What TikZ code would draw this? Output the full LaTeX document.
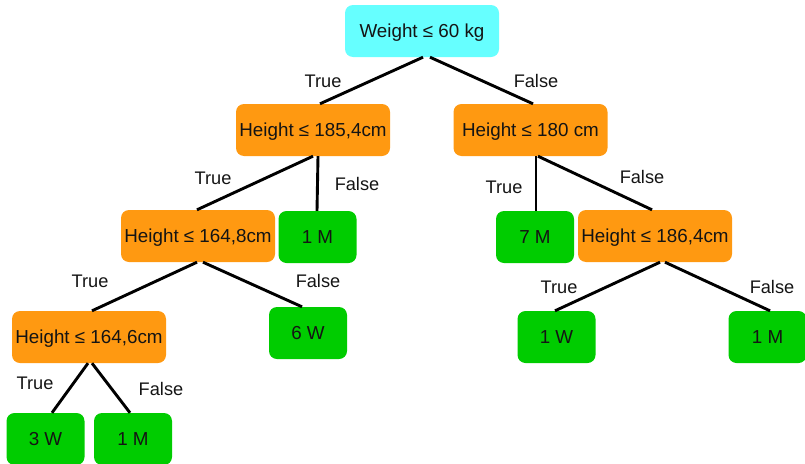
\documentclass[tikz,border=0pt]{standalone}
\usepackage{fontspec}
\setmainfont{Liberation Sans}
\begin{document}
\begin{tikzpicture}[x=1pt,y=-1pt,
  box/.style={rounded corners=8pt, minimum height=52pt, inner sep=0pt,
    text height=13.5pt, text depth=0pt,
    font=\fontsize{18.8}{21}\selectfont, text=black!92},
  test/.style={box, fill=orangeC, minimum width=154pt},
  rootbox/.style={box, fill=cyanC, minimum width=154pt},
  leaf/.style={box, fill=greenC, minimum width=78pt},
  edge/.style={line width=2.9pt, black},
  lbl/.style={font=\fontsize{18.2}{21}\selectfont, text=black!92, inner sep=0pt}]
\definecolor{cyanC}{RGB}{102,255,255}
\definecolor{orangeC}{RGB}{255,153,17}
\definecolor{greenC}{RGB}{0,204,0}
\useasboundingbox (0,0) rectangle (805,463);

% decision nodes
\node[rootbox] (root) at (422,31) {Weight ≤ 60 kg};
\node[test] (h1) at (313,130) {Height ≤ 185,4cm};
\node[test] (h2) at (530.5,130) {Height ≤ 180 cm};
\node[test] (h3) at (198,236) {Height ≤ 164,8cm};
\node[test] (h5) at (655,236) {Height ≤ 186,4cm};
\node[test] (h4) at (89,337) {Height ≤ 164,6cm};

% leaves
\node[leaf] (m1) at (317.5,237) {1 M};
\node[leaf] (m7) at (535,237) {7 M};
\node[leaf] (w6) at (308,333) {6 W};
\node[leaf] (w1) at (556.5,337) {1 W};
\node[leaf] (m1c) at (767.5,337) {1 M};
\node[leaf] (w3) at (45.5,439) {3 W};
\node[leaf] (m1b) at (133,439) {1 M};

% branches
\draw[edge] ([xshift=1pt]root.south) -- ([xshift=7pt]h1.north);
\draw[edge] ([xshift=8pt]root.south) -- ([xshift=2.5pt]h2.north);
\draw[edge] (h1.south) -- ([xshift=-1pt]h3.north);
\draw[edge] ([xshift=5pt]h1.south) -- ([xshift=-0.5pt]m1.north);
\draw[edge] ([xshift=-1pt]h3.south) -- ([xshift=3pt]h4.north);
\draw[edge] ([xshift=5pt]h3.south) -- ([xshift=-6pt]w6.north);
\draw[edge] ([xshift=-1pt]h4.south) -- ([xshift=6.5pt]w3.north);
\draw[edge] ([xshift=3pt]h4.south) -- ([xshift=-3pt]m1b.north);
\draw[edge] ([xshift=5.5pt]h2.south) -- ([xshift=1pt]m7.north);
\draw[edge] ([xshift=7.5pt]h2.south) -- ([xshift=-3pt]h5.north);
\draw[edge] ([xshift=5pt]h5.south) -- ([xshift=-1.5pt]w1.north);
\draw[edge] ([xshift=10pt]h5.south) -- ([xshift=2.5pt]m1c.north);

% branch labels
\node[lbl] (t1) at (323,81) {True};
\node[lbl] (f1) at (536,81) {False};
\node[lbl] (t2) at (213,178) {True};
\node[lbl] (f2) at (357,184) {False};
\node[lbl] (t3) at (504,187) {True};
\node[lbl] (f3) at (642,177) {False};
\node[lbl] (t4) at (90,281) {True};
\node[lbl] (f4) at (318,281) {False};
\node[lbl] (t5) at (559,287) {True};
\node[lbl] (f5) at (772,287) {False};
\node[lbl] (t6) at (35,383) {True};
\node[lbl] (f6) at (161,389) {False};
\end{tikzpicture}
\end{document}
